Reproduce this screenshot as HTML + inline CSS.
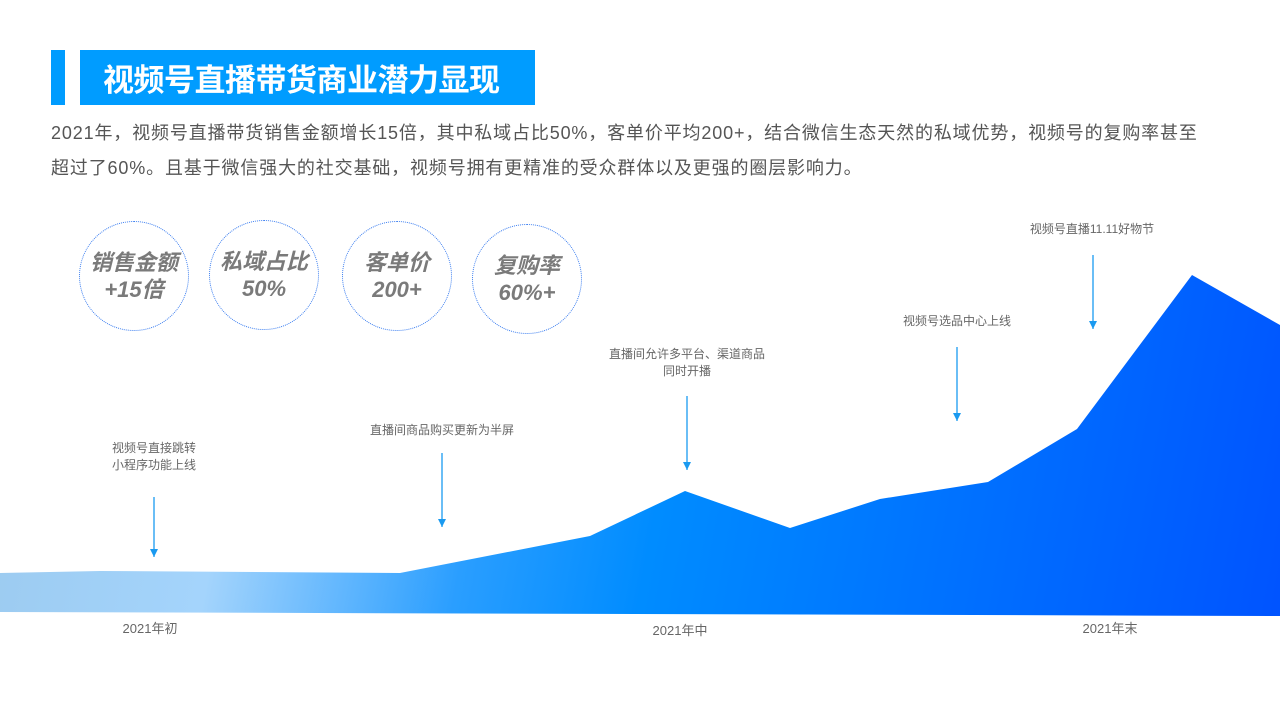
<!DOCTYPE html>
<html><head><meta charset="utf-8"><style>
body{margin:0;width:1280px;height:720px;background:#fff;position:relative;overflow:hidden;font-family:"Liberation Sans","Noto Sans CJK SC",sans-serif}
.bar{position:absolute;background:#009cff}
.title{position:absolute;left:80px;top:50px;width:455px;height:55px;background:#009cff;color:#fff;font-weight:bold;font-size:31px;line-height:55px;text-indent:23px;font-family:"Noto Sans CJK SC",sans-serif;letter-spacing:-0.5px}
.para{position:absolute;left:51px;top:116px;width:1220px;font-size:18px;line-height:35px;color:#555;letter-spacing:0.85px}
.c{position:absolute;width:108px;height:108px;border:1px dotted #3a7df0;border-radius:50%;text-align:center;color:#7a7a7a;font-weight:bold;font-style:italic;font-size:22px;line-height:27px;display:flex;align-items:center;justify-content:center}
.lb{position:absolute;font-size:12px;color:#666;text-align:center;line-height:17px}
</style></head><body>
<div class="bar" style="left:51px;top:50px;width:14px;height:55px"></div>
<div class="title">视频号直播带货商业潜力显现</div>
<div class="para">2021年，视频号直播带货销售金额增长15倍，其中私域占比50%，客单价平均200+，结合微信生态天然的私域优势，视频号的复购率甚至<br>超过了60%。且基于微信强大的社交基础，视频号拥有更精准的受众群体以及更强的圈层影响力。</div>
<div class="c" style="left:79px;top:221px">销售金额<br>+15倍</div>
<div class="c" style="left:209px;top:220px">私域占比<br>50%</div>
<div class="c" style="left:342px;top:221px">客单价<br>200+</div>
<div class="c" style="left:472px;top:224px">复购率<br>60%+</div>
<svg width="1280" height="720" style="position:absolute;left:0;top:0">
<defs><linearGradient id="g" gradientUnits="userSpaceOnUse" x1="0" y1="480" x2="1280" y2="720">
<stop offset="0" stop-color="#9ccbf0"/><stop offset="0.17" stop-color="#a4d4fc"/><stop offset="0.36" stop-color="#2a9eff"/><stop offset="0.5" stop-color="#008cff"/><stop offset="1" stop-color="#0052ff"/></linearGradient>
<marker id="a" markerWidth="8" markerHeight="8" refX="8" refY="4" orient="auto" markerUnits="userSpaceOnUse"><path d="M0,0 L8,4 L0,8z" fill="#1a9af0"/></marker></defs>
<polygon fill="url(#g)" points="0,573 100,571 400,573 590,536 685,491 790,528 880,499 988,482 1077,429 1192,275 1280,325 1280,616 0,612"/>
<g stroke="#1a9af0" stroke-width="1.3" marker-end="url(#a)">
<line x1="154" y1="497" x2="154" y2="557"/><line x1="442" y1="453" x2="442" y2="527"/><line x1="687" y1="396" x2="687" y2="470"/><line x1="957" y1="347" x2="957" y2="421"/><line x1="1093" y1="255" x2="1093" y2="329"/></g>
</svg>
<div class="lb" style="left:94px;top:440px;width:120px">视频号直接跳转<br>小程序功能上线</div>
<div class="lb" style="left:342px;top:422px;width:200px">直播间商品购买更新为半屏</div>
<div class="lb" style="left:587px;top:346px;width:200px">直播间允许多平台、渠道商品<br>同时开播</div>
<div class="lb" style="left:857px;top:313px;width:200px">视频号选品中心上线</div>
<div class="lb" style="left:997px;top:221px;width:190px">视频号直播11.11好物节</div>
<div class="lb" style="left:100px;top:620px;width:100px;font-size:13px">2021年初</div>
<div class="lb" style="left:630px;top:622px;width:100px;font-size:13px">2021年中</div>
<div class="lb" style="left:1060px;top:620px;width:100px;font-size:13px">2021年末</div>
</body></html>
